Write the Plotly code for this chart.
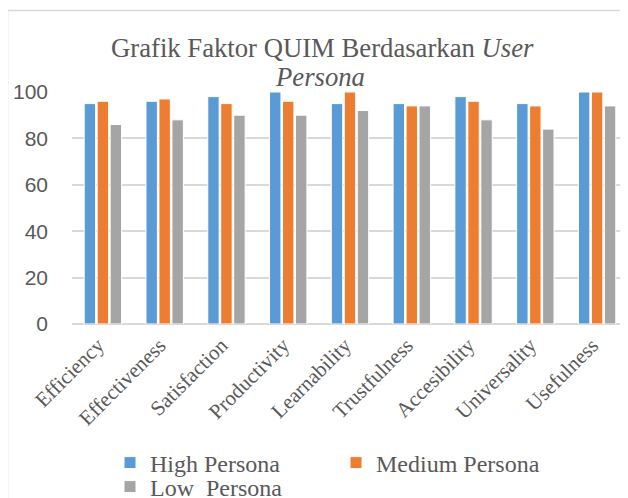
import plotly.graph_objects as go

categories = ["Efficiency", "Effectiveness", "Satisfaction", "Productivity", "Learnability",
              "Trustfulness", "Accesibility", "Universality", "Usefulness"]
high_persona = [95, 96, 98, 100, 95, 95, 98, 95, 100]
medium_persona = [96, 97, 95, 96, 100, 94, 96, 94, 100]
low_persona = [86, 88, 90, 90, 92, 94, 88, 84, 94]
y_ticks = [0, 20, 40, 60, 80, 100]
title_line1 = "Grafik Faktor QUIM Berdasarkan <i>User</i>"
title_line2 = "<i>Persona</i>"

W, H = 628, 498
OFF = 8  # page body margin offset: positions below are given in screen pixels
L, R, T, B = 72 - OFF, 8, 92 - OFF, 498 - 324 + OFF
pw, ph = W - L - R, H - T - B

def px(x):
    return (x - OFF - L) / pw

def py(y):
    return (H - B - (y - OFF)) / ph

grey = "#595959"
serif = "Liberation Serif"
fig = go.Figure()
for name, vals, col, lg in [("High Persona", high_persona, "#5B9BD5", "legend"),
                            ("Medium Persona", medium_persona, "#ED7D31", "legend"),
                            ("Low\u00a0 Persona", low_persona, "#A5A5A5", "legend2")]:
    fig.add_trace(go.Bar(x=categories, y=vals, name=name, legend=lg,
                         marker=dict(color=col, line=dict(color="white", width=1))))

legend_common = dict(orientation="h", xref="container", yref="container",
                     xanchor="left", yanchor="middle",
                     font=dict(family=serif, size=24, color=grey),
                     bgcolor="rgba(0,0,0,0)", entrywidth=181, entrywidthmode="pixels")

fig.update_layout(
    width=W, height=H,
    margin=dict(l=L, r=R, t=T, b=B, autoexpand=False),
    paper_bgcolor="white", plot_bgcolor="white",
    barmode="group", bargap=0.37, bargroupgap=0.12,
    showlegend=True,
    legend=dict(x=(110 - OFF) / W, y=1 - (463 - OFF) / H, **legend_common),
    legend2=dict(x=(110 - OFF) / W, y=1 - (487 - OFF) / H, **legend_common),
    xaxis=dict(tickangle=-45, tickfont=dict(family=serif, size=21, color=grey),
               showgrid=False, showline=False, ticks="", ticklabelshift=-5,
               ticklabelstandoff=4),
    yaxis=dict(range=[0, 100], tickvals=y_ticks, showgrid=True, gridcolor="#D9D9D9",
               gridwidth=1.5, zeroline=True, zerolinecolor="#D9D9D9", zerolinewidth=1.5,
               tickfont=dict(family="Liberation Sans", size=21, color=grey),
               ticklabelstandoff=23, showline=False),
    annotations=[
        dict(text=title_line1, xref="paper", yref="paper", x=px(322), y=py(48),
             xanchor="center", yanchor="middle", showarrow=False,
             font=dict(family=serif, size=26.7, color=grey)),
        dict(text=title_line2, xref="paper", yref="paper", x=px(320), y=py(77),
             xanchor="center", yanchor="middle", showarrow=False,
             font=dict(family=serif, size=26.7, color=grey)),
    ],
    shapes=[dict(type="rect", xref="paper", yref="paper",
                 x0=px(7.5), x1=px(660), y0=py(540), y1=py(10.5),
                 line=dict(color="#D9D9D9", width=1.5), fillcolor="rgba(0,0,0,0)",
                 layer="below")],
)

fig.write_html("out.html")
